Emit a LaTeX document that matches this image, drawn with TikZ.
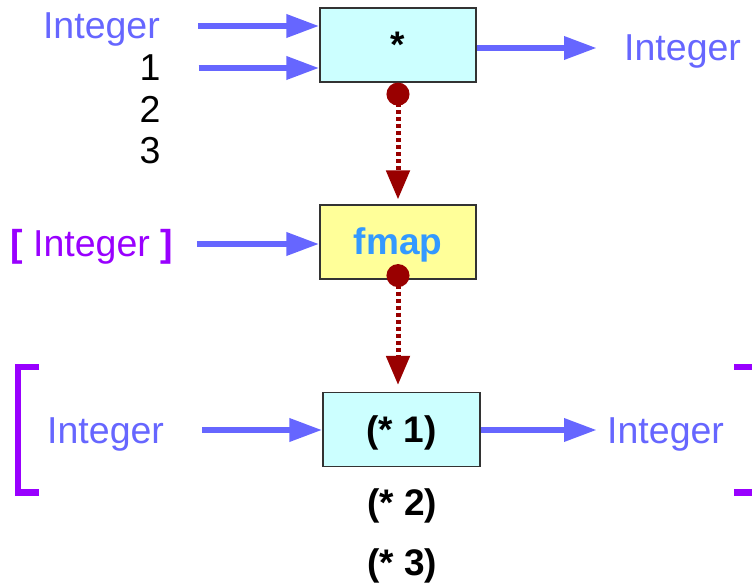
\documentclass[tikz,border=0pt]{standalone}
\usepackage{fontspec}
\setmainfont{Liberation Sans}
\usepackage{xcolor}
\usepackage{tikz}
\usetikzlibrary{arrows.meta}

\definecolor{flowblue}{HTML}{6666FF}
\definecolor{listpurple}{HTML}{9900FF}
\definecolor{fmapblue}{HTML}{3399FF}
\definecolor{depred}{HTML}{990000}
\definecolor{boxcyan}{HTML}{CCFFFF}
\definecolor{boxyellow}{HTML}{FFFF99}

\tikzset{
  lbl/.style={inner sep=0pt, text height=26pt, text depth=0pt,
    font=\fontsize{37.5}{40}\selectfont},
  fbox/.style={draw=black!80, line width=1.2pt, inner sep=0pt,
    minimum width=156pt, minimum height=74pt,
    text height=26pt, text depth=0pt,
    font=\fontsize{37}{40}\selectfont\bfseries},
  flow/.style={draw=flowblue, line width=6.5pt,
    -{Triangle[length=33pt,width=22pt]}},
  dep/.style={draw=depred, line width=5pt, dash pattern=on 4pt off 3pt,
    {Circle[length=23pt]}-{Triangle[length=29pt,width=23pt]}},
  bracket/.style={draw=listpurple, line width=6.5pt}
}

\begin{document}
\begin{tikzpicture}[x=1pt,y=1pt]
  \useasboundingbox (0,0) rectangle (752,-585);

  % function boxes
  \node[fbox, fill=boxcyan] (mul) at (398,-45) {*};
  \node[fbox, fill=boxyellow, text=fmapblue] (fmap) at (398,-242) {fmap};
  \node[fbox, fill=boxcyan, minimum width=157pt] (apply) at (401.5,-429.5) {(* 1)};
  \node[lbl, font=\fontsize{37}{40}\selectfont\bfseries] (r2) at (402,-502) {(* 2)};
  \node[lbl, font=\fontsize{37}{40}\selectfont\bfseries] (r3) at (402,-562) {(* 3)};

  % top row
  \node[lbl, text=flowblue, anchor=east] (in1) at (160,-26) {Integer};
  \node[lbl] (n1) at (150,-68) {1};
  \node[lbl] (n2) at (150,-110) {2};
  \node[lbl] (n3) at (150,-151) {3};
  \node[lbl, text=flowblue, anchor=west] (out1) at (624,-48) {Integer};
  \draw[flow, shorten <=38pt] (in1.east) -- (in1.east -| mul.west);
  \draw[flow, shorten <=38pt] (n1.east) -- (n1.east -| mul.west);
  \draw[flow, shorten >=27pt] (mul.east |- out1.west) -- (out1.west);

  % middle row
  \node[lbl, text=listpurple, anchor=west] (lst) at (10,-244)
    {\textbf{[} Integer \textbf{]}};
  \draw[flow, shorten <=24pt] (lst.east) -- (lst.east -| fmap.west);

  % bottom row
  \node[lbl, text=flowblue, anchor=west] (in3) at (47,-430) {Integer};
  \node[lbl, text=flowblue, anchor=west] (out3) at (607,-430) {Integer};
  \draw[flow, shorten <=38pt] (in3.east) -- (in3.east -| apply.west);
  \draw[flow, shorten >=10pt] (apply.east |- out3.west) -- (out3.west);
  \draw[bracket] (39,-367) -- (18,-367) -- (18,-492.5) -- (39,-492.5);
  \draw[bracket] (734,-367) -- (756,-367) -- (756,-492.5) -- (734,-492.5);

  % lifting
  \draw[dep] (mul.south) -- ([yshift=5pt]fmap.north);
  \draw[dep] ([yshift=15.5pt]fmap.south) -- ([yshift=7pt]fmap.south |- apply.north);
\end{tikzpicture}
\end{document}
